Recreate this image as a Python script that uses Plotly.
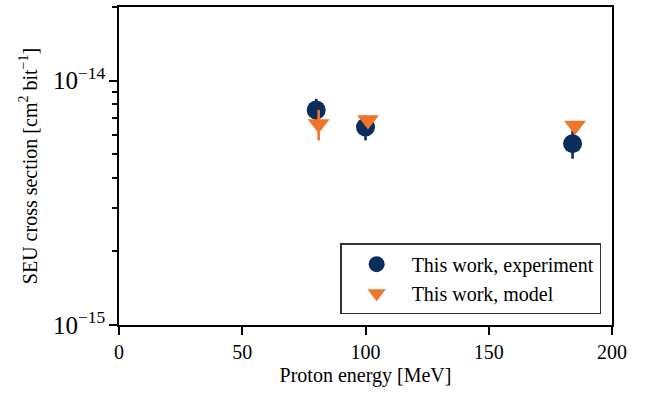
import plotly.graph_objects as go

# Measured SEU cross sections
exp_energy = [80, 100, 184]
exp_sigma = [7.58e-15, 6.45e-15, 5.52e-15]
exp_err = [0.84e-15, 0.76e-15, 0.73e-15]

# Model predictions (slightly offset in energy for visibility)
model_energy = [81, 101, 185]
model_sigma = [6.64e-15, 6.90e-15, 6.55e-15]
model_err = [0.95e-15, 0.25e-15, 0.25e-15]

x_ticks = [0, 50, 100, 150, 200]

NAVY = "#0a2d5e"
ORANGE = "#ee7628"
FONT = "Liberation Serif"
FS = 20
Y_RANGE = [-15, -13.699]

fig = go.Figure()
fig.add_trace(go.Scatter(
    x=exp_energy, y=exp_sigma, mode="markers",
    name="This work, experiment",
    marker=dict(symbol="circle", size=19, color=NAVY),
    error_y=dict(type="data", array=exp_err, visible=True,
                 color=NAVY, thickness=2.6, width=0),
))
fig.add_trace(go.Scatter(
    x=model_energy, y=model_sigma, mode="markers",
    name="This work, model",
    marker=dict(symbol="triangle-down", size=19, color=ORANGE),
    error_y=dict(type="data", array=model_err, visible=True,
                 color=ORANGE, thickness=2.6, width=0),
))

axis_common = dict(
    showline=True, linecolor="black", linewidth=1.5, mirror=True,
    ticks="outside", ticklen=8, tickwidth=1.5, tickcolor="black",
    showgrid=False, zeroline=False,
    tickfont=dict(family=FONT, size=FS, color="black"),
)

fig.update_layout(
    width=650, height=401,
    margin=dict(l=119, r=38, t=5, b=76),
    paper_bgcolor="white", plot_bgcolor="white",
    font=dict(family=FONT, size=FS, color="black"),
    xaxis=dict(
        range=[0, 200], tickvals=x_ticks,
        title=dict(text="Proton energy [MeV]", font=dict(family=FONT, size=FS), standoff=6),
        **axis_common,
    ),
    yaxis=dict(
        type="log", range=Y_RANGE,
        tickmode="linear", tick0=0, dtick=1, exponentformat="power",
        minor=dict(dtick="D1", ticks="outside", ticklen=5,
                   tickwidth=1.6, tickcolor="black", showgrid=False),
        title=dict(text="SEU cross section [cm<sup>2</sup> bit<sup>\u22121</sup>]",
                   font=dict(family=FONT, size=FS), standoff=10),
        **axis_common,
    ),
    legend=dict(
        x=0.978, y=0.034, xanchor="right", yanchor="bottom",
        bgcolor="white", bordercolor="#333333", borderwidth=1.5,
        font=dict(family=FONT, size=FS, color="black"),
        itemwidth=60, tracegroupgap=2,
    ),
    showlegend=True,
)

fig.write_html("out.html")
